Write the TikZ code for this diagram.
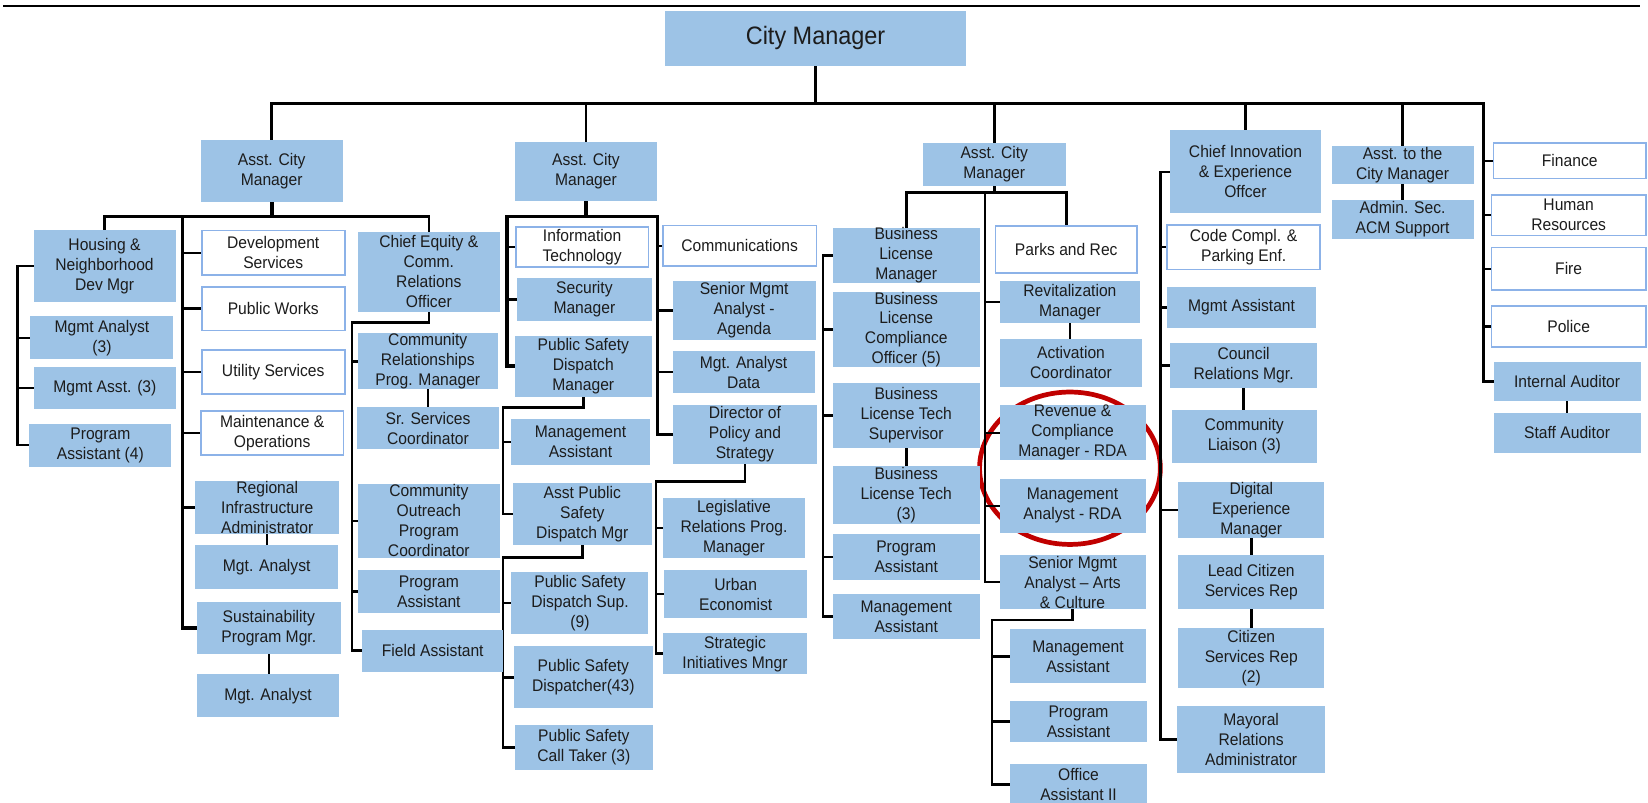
\documentclass[tikz,border=0pt]{standalone}
\usepackage{fontspec}
\setmainfont{Liberation Sans}[FakeStretch=0.93]
\usetikzlibrary{calc}

\definecolor{boxfill}{RGB}{157,195,230}
\definecolor{boxedge}{RGB}{140,178,232}
\definecolor{inkgray}{RGB}{28,28,28}
\definecolor{ringred}{RGB}{192,0,0}

\pgfdeclarelayer{wires}
\pgfsetlayers{wires,main}

% \orgbox{style}{name}{x1}{y1}{x2}{y2}{text}: box given by its corners
\newcommand\orgbox[7]{%
  \node[#1, minimum width={#5-#3}, minimum height={#6-#4}] (#2) at ({(#3+#5)/2},{(#4+#6)/2}) {#7};}

\begin{document}
\begin{tikzpicture}[x=1pt,y=-1pt,
  post/.style={fill=boxfill, inner sep=0pt, outer sep=0pt, align=center,
    text=inkgray, font=\fontsize{16}{19}\selectfont},
  unit/.style={post, fill=white, draw=boxedge, line width=1.5pt},
  head/.style={post, font=\fontsize{24}{27}\selectfont},
  wire/.style={line width=2.4pt, line cap=rect, line join=miter},
  trunk/.style={wire, line width=3.6pt},
]
\useasboundingbox (0,0) rectangle (1568,764);

% ---------------- top level ----------------
\orgbox{head}{cm}{633}{10}{919}{62.5}{City Manager}
\orgbox{post}{acmA}{191}{133}{326}{192}{Asst. City\\Manager}
\orgbox{post}{acmB}{490}{135}{625}{191}{Asst. City\\Manager}
\orgbox{post}{acmC}{878}{136}{1014}{177}{Asst. City\\Manager}
\orgbox{post}{cio}{1113}{124}{1257}{203}{Chief Innovation\\\& Experience\\Offcer}
\orgbox{post}{atcm}{1267}{138.5}{1402}{175.5}{Asst. to the\\City Manager}
\orgbox{post}{adm}{1267}{190}{1402}{227.5}{Admin. Sec.\\ACM Support}
\orgbox{unit}{fin}{1421}{136}{1566}{170}{Finance}
\orgbox{unit}{hr}{1419}{185.5}{1566}{224}{Human\\Resources}
\orgbox{unit}{fire}{1419}{235.5}{1566}{276}{Fire}
\orgbox{unit}{pol}{1419}{291}{1566}{330}{Police}
\orgbox{post}{iaud}{1421}{344}{1561}{382}{Internal Auditor}
\orgbox{post}{saud}{1421}{392.5}{1561}{431}{Staff Auditor}

% ---------------- first ACM ----------------
\orgbox{post}{hous}{32}{219}{167}{287}{Housing \&\\Neighborhood\\Dev Mgr}
\orgbox{post}{ma3}{29}{301}{165}{342}{Mgmt Analyst\\(3)}
\orgbox{post}{mas3}{32}{349}{167.5}{389.5}{Mgmt Asst. (3)}
\orgbox{post}{pa4}{28}{403}{163}{444}{Program\\Assistant (4)}
\orgbox{unit}{dev}{192}{219.5}{328}{261.5}{Development\\Services}
\orgbox{unit}{pw}{192}{273}{328}{314.5}{Public Works}
\orgbox{unit}{us}{192}{333}{328}{375}{Utility Services}
\orgbox{unit}{mo}{191}{391}{327}{433}{Maintenance \&\\Operations}
\orgbox{post}{ria}{186}{457.5}{322.5}{508}{Regional\\Infrastructure\\Administrator}
\orgbox{post}{mga1}{186}{518.5}{321.5}{560}{Mgt. Analyst}
\orgbox{post}{spm}{187.5}{572.5}{324}{622.5}{Sustainability\\Program Mgr.}
\orgbox{post}{mga2}{187.5}{641.5}{322.5}{682.5}{Mgt. Analyst}
\orgbox{post}{ceo}{340.5}{220.5}{475.5}{296.5}{Chief Equity \&\\Comm.\\Relations\\Officer}
\orgbox{post}{crpm}{340.5}{318}{473.5}{369.5}{Community\\Relationships\\Prog. Manager}
\orgbox{post}{ssc}{339.5}{387.5}{475}{427.5}{Sr. Services\\Coordinator}
\orgbox{post}{copc}{340.5}{460.5}{475.5}{530.5}{Community\\Outreach\\Program\\Coordinator}
\orgbox{post}{pa1}{340.5}{542.5}{475.5}{583.5}{Program\\Assistant}
\orgbox{post}{fa}{344.5}{599}{479}{639}{Field Assistant}

% ---------------- second ACM ----------------
\orgbox{unit}{it}{490.7}{215.7}{617}{254}{Information\\Technology}
\orgbox{post}{sm}{492}{264.8}{620}{305}{Security\\Manager}
\orgbox{post}{psdm}{490}{319.7}{620}{377.4}{Public Safety\\Dispatch\\Manager}
\orgbox{post}{mas1}{486.6}{399}{618}{442.4}{Management\\Assistant}
\orgbox{post}{apsd}{488}{459.3}{620}{518.6}{Asst Public\\Safety\\Dispatch Mgr}
\orgbox{post}{psds}{486.6}{544}{617}{603}{Public Safety\\Dispatch Sup.\\(9)}
\orgbox{post}{psd}{489}{614.7}{621}{674}{Public Safety\\Dispatcher(43)}
\orgbox{post}{psct}{490}{690}{621}{732.6}{Public Safety\\Call Taker (3)}
\orgbox{unit}{comm}{630.7}{214.7}{776.8}{253}{Communications}
\orgbox{post}{sma}{640}{267}{776}{323.5}{Senior Mgmt\\Analyst -\\Agenda}
\orgbox{post}{mad}{640}{333.7}{775}{374.2}{Mgt. Analyst\\Data}
\orgbox{post}{dps}{640.5}{385.3}{777}{441.5}{Director of\\Policy and\\Strategy}
\orgbox{post}{lrpm}{630.7}{474}{766}{531}{Legislative\\Relations Prog.\\Manager}
\orgbox{post}{ue}{632}{542.3}{768}{588.3}{Urban\\Economist}
\orgbox{post}{sim}{630.7}{602.6}{768}{641.3}{Strategic\\Initiatives Mngr}

% ---------------- third ACM ----------------
\orgbox{post}{blm}{792.5}{218}{932}{268}{Business\\License\\Manager}
\orgbox{post}{blco}{792.5}{279}{932}{348.2}{Business\\License\\Compliance\\Officer (5)}
\orgbox{post}{blts}{792.5}{364}{932}{426.6}{Business\\License Tech\\Supervisor}
\orgbox{post}{blt}{792.5}{443.4}{932}{498.6}{Business\\License Tech\\(3)}
\orgbox{post}{pa2}{792.5}{508}{932}{552}{Program\\Assistant}
\orgbox{post}{mas2}{792.5}{565.2}{932}{608.3}{Management\\Assistant}
\orgbox{unit}{pr}{947}{215}{1082}{259.5}{Parks and Rec}
\orgbox{post}{rvm}{951}{267}{1085}{307.6}{Revitalization\\Manager}
\orgbox{post}{ac}{951}{322.5}{1087}{368}{Activation\\Coordinator}
\orgbox{post}{rcm}{951}{386}{1090}{437.7}{Revenue \&\\Compliance\\Manager - RDA}
\orgbox{post}{mar}{951}{455.8}{1090}{506.8}{Management\\Analyst - RDA}
\orgbox{post}{smac}{951}{528}{1090}{579.7}{Senior Mgmt\\Analyst – Arts\\\& Culture}
\orgbox{post}{mas3b}{961.3}{598.8}{1090}{650.2}{Management\\Assistant}
\orgbox{post}{pa3}{961.3}{667}{1091}{705.7}{Program\\Assistant}
\orgbox{post}{oa}{961.3}{727.2}{1091}{766}{Office\\Assistant II}

% ---------------- innovation office ----------------
\orgbox{unit}{ccpe}{1110.6}{214}{1256}{256.3}{Code Compl. \&\\Parking Enf.}
\orgbox{post}{mga3}{1110.6}{273.4}{1252}{311.8}{Mgmt Assistant}
\orgbox{post}{crm}{1113.5}{326}{1253}{369.5}{Council\\Relations Mgr.}
\orgbox{post}{cl3}{1114.7}{390}{1253}{440.8}{Community\\Liaison (3)}
\orgbox{post}{dem}{1121}{459.2}{1260}{511}{Digital\\Experience\\Manager}
\orgbox{post}{lcsr}{1121}{528}{1260}{579.7}{Lead Citizen\\Services Rep}
\orgbox{post}{csr}{1121}{597.8}{1260}{654.9}{Citizen\\Services Rep\\(2)}
\orgbox{post}{mra}{1119.8}{671.7}{1261}{735.8}{Mayoral\\Relations\\Administrator}

\begin{pgfonlayer}{wires}
  \fill[white] (0,0) rectangle (1568,764);
  % highlight ring round the two RDA posts
  \draw[ringred, line width=4.5pt] (1018,445.5) ellipse [x radius=86, y radius=72.5];

  % page rule
  \coordinate (ruleL) at (3,5.7);
  \coordinate (ruleR) at (1560,5.7);
  \draw[line width=2.3pt] (ruleL) -- (ruleR);

  % top bus
  \coordinate (busL) at (258.5,98.5);
  \coordinate (busR) at (1411.5,98.5);
  \draw[wire] (busL) -- (busR);
  \draw[trunk] (cm.south) -- (cm.south |- busL);
  \draw[wire] (acmA.north) -- (acmA.north |- busL);
  \draw[wire] (acmB.north) -- (acmB.north |- busL);
  \draw[wire] (acmC.north) -- (acmC.north |- busL);
  \draw[wire] (cio.north) -- (cio.north |- busL);
  \draw[wire] (atcm.north) -- (atcm.north |- busL);
  \draw[wire] (atcm.south) -- (atcm.south |- adm.north);
  \draw[wire] (busR) |- (iaud.west);
  \foreach \n in {fin,hr,fire,pol} \draw[wire] (\n.west) -- (\n.west -| busR);
  \draw[wire] (iaud.south) -- (iaud.south |- saud.north);

  % first ACM
  \coordinate (aY) at (0,206);
  \coordinate (aT) at (173.6,206);
  \draw[trunk] (acmA.south) -- (acmA.south |- aY) -- (aT) -- (aT |- spm.west) -- (spm.west);
  \draw[wire] (hous.north) |- (aT);
  \draw[wire] (ceo.north) |- (acmA.south |- aY);
  \foreach \n in {dev,pw,us,mo,ria} \draw[wire] (\n.west) -- (\n.west -| aT);
  \draw[wire] (ria.south) -- (ria.south |- mga1.north);
  \draw[wire] (spm.south) -- (spm.south |- mga2.north);
  \coordinate (hT) at (16.7,0);
  \draw[wire] (hous.west) -- (hous.west -| hT) |- (pa4.west);
  \foreach \n in {ma3,mas3} \draw[wire] (\n.west) -- (\n.west -| hT);
  \coordinate (cT) at (335,306.7);
  \draw[wire] (ceo.south) |- (cT) -- (cT |- fa.west) -- (fa.west);
  \foreach \n in {crpm,copc,pa1} \draw[wire] (\n.west) -- (\n.west -| cT);
  \draw[wire] (crpm.south) -- (crpm.south |- ssc.north);

  % second ACM
  \coordinate (bL) at (482.5,206);
  \coordinate (bR) at (625.6,206);
  \draw[trunk] (acmB.south) -- (acmB.south |- bL) -- (bL) -- (bL |- psdm.west) -- (psdm.west);
  \draw[wire] (acmB.south |- bR) -- (bR) -- (bR |- dps.west) -- (dps.west);
  \foreach \n in {it,sm} \draw[wire] (\n.west) -- (\n.west -| bL);
  \foreach \n in {comm,sma,mad} \draw[wire] (\n.west) -- (\n.west -| bR);
  \coordinate (pT) at (478.8,387.6);
  \draw[wire] (psdm.south) |- (pT) -- (pT |- apsd.west) -- (apsd.west);
  \draw[wire] (mas1.west) -- (mas1.west -| pT);
  \coordinate (qT) at (478.8,530.3);
  \draw[wire] (apsd.south) |- (qT) -- (qT |- psct.west) -- (psct.west);
  \foreach \n in {psds,psd} \draw[wire] (\n.west) -- (\n.west -| qT);
  \coordinate (dT) at (624,458.3);
  \draw[wire] (dps.south) |- (dT) -- (dT |- sim.west) -- (sim.west);
  \foreach \n in {lrpm,ue} \draw[wire] (\n.west) -- (\n.west -| dT);

  % third ACM
  \coordinate (cY) at (946,183);
  \draw[wire] (acmC.south) -- (acmC.south |- cY);
  \draw[wire] (blm.north) |- (cY) -| (pr.north);
  \coordinate (rT) at (937,183);
  \draw[wire] (rT) -- (rT |- smac.west) -- (smac.west);
  \foreach \n in {rvm,rcm,mar} \draw[wire] (\n.west) -- (\n.west -| rT);
  \draw[wire] (rvm.south) -- (rvm.south |- ac.north);
  \coordinate (bT) at (783,0);
  \draw[wire] (blm.west) -- (blm.west -| bT) |- (mas2.west);
  \foreach \n in {blco,blts,pa2} \draw[wire] (\n.west) -- (\n.west -| bT);
  \draw[wire] (blts.south) -- (blts.south |- blt.north);
  \coordinate (sT) at (944,590);
  \draw[wire] (smac.south) |- (sT) -- (sT |- oa.west) -- (oa.west);
  \foreach \n in {mas3b,pa3} \draw[wire] (\n.west) -- (\n.west -| sT);

  % innovation office
  \coordinate (iT) at (1104,0);
  \draw[wire] (cio.west) -- (cio.west -| iT) |- (mra.west);
  \foreach \n in {ccpe,mga3,crm,dem} \draw[wire] (\n.west) -- (\n.west -| iT);
  \draw[wire] (crm.south) -- (crm.south |- cl3.north);
  \draw[wire] (dem.south) -- (dem.south |- lcsr.north);
  \draw[wire] (lcsr.south) -- (lcsr.south |- csr.north);
\end{pgfonlayer}
\end{tikzpicture}
\end{document}
